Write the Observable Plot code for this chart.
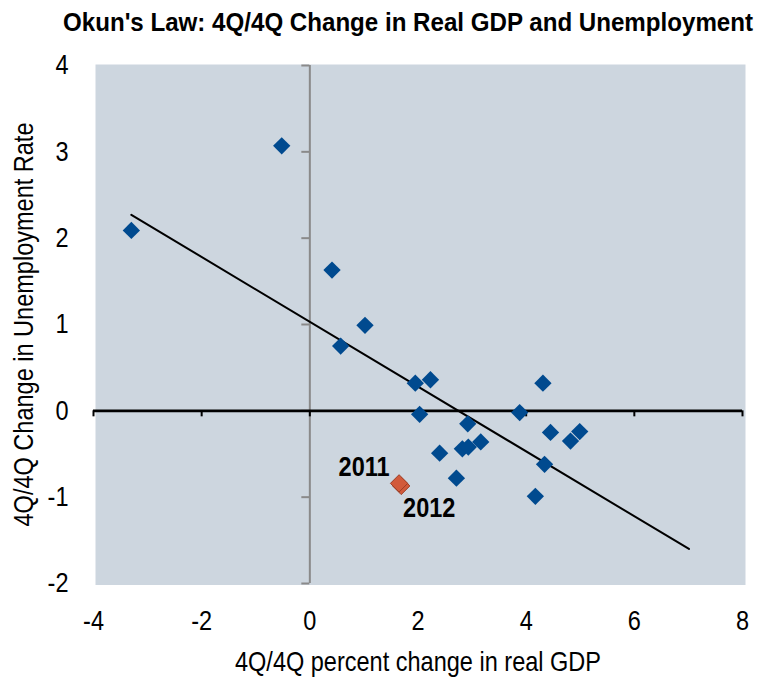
<!DOCTYPE html>
<html><head><meta charset="utf-8">
<script src="https://cdn.jsdelivr.net/npm/d3@7"></script>
<script src="https://cdn.jsdelivr.net/npm/@observablehq/plot@0.6"></script>
<style>
body{margin:0;background:#fff;}
#title{position:relative;height:44px;width:761px;}
#title span{position:absolute;left:408px;top:0;line-height:44px;white-space:nowrap;font-family:"Liberation Sans",Arial,sans-serif;font-weight:bold;font-size:26px;color:#000;transform:translateX(-50%);}
</style></head><body>
<div id="title"><span>Okun's Law: 4Q/4Q Change in Real GDP and Unemployment</span></div>
<div id="chart"></div>
<script>
// Historical observations: 4Q/4Q % change in real GDP vs 4Q/4Q change in unemployment rate
const gdp   = [-3.30, -0.52, 0.41, 1.02, 0.57, 1.95, 2.23, 2.03, 2.92, 2.40, 2.82, 2.93, 3.16, 2.71, 3.88, 4.31, 4.45, 4.34, 4.17, 4.82, 4.99];
const unemp = [ 2.09,  3.07, 1.63, 0.99, 0.75, 0.32, 0.36, -0.04, -0.15, -0.49, -0.44, -0.42, -0.36, -0.78, -0.02, 0.32, -0.25, -0.62, -0.99, -0.35, -0.24];
// Highlighted recent years
const recentYears = ["2012", "2011"];
const recentGdp   = [1.69, 1.65];
const recentUnemp = [-0.87, -0.84];
// Fitted Okun's law line (endpoints)
const fitGdp   = [-3.30, 7.01];
const fitUnemp = [2.27, -1.60];
// Axis ticks
const xTicks = [-4, -2, 0, 2, 4, 6, 8];
const yTicks = [-2, -1, 0, 1, 2, 3, 4];
const xLabel = "4Q/4Q percent change in real GDP";
const yLabel = "4Q/4Q Change in Unemployment Rate";

const points = gdp.map((g, i) => ({gdp: g, unemp: unemp[i]}));
const recent = recentYears.map((yr, i) => ({year: yr, gdp: recentGdp[i], unemp: recentUnemp[i]}));
const fit = fitGdp.map((g, i) => ({gdp: g, unemp: fitUnemp[i]}));

const font = '"Liberation Sans",Arial,sans-serif';

const chart = Plot.plot({
  width: 761,
  height: 634,
  marginTop: 21,
  marginBottom: 95,
  marginLeft: 93,
  marginRight: 19,
  style: {fontFamily: font, fontSize: "28px", color: "#000", background: "#fff"},
  x: {domain: [-4, 8]},
  y: {domain: [-2, 4]},
  marks: [
    Plot.frame({fill: "#cdd6df", stroke: null, insetLeft: 2, insetRight: -3, insetTop: -1, insetBottom: -1.5}),
    Plot.ruleX([0], {stroke: "#8a8a8a", strokeWidth: 2}),
    Plot.ruleY(yTicks, {y: d => d, x1: 0, x2: 0, insetLeft: -8, stroke: "#8a8a8a", strokeWidth: 2}),
    Plot.ruleY([0], {stroke: "#000", strokeWidth: 2.7}),
    Plot.ruleX(xTicks, {x: d => d, y1: 0, y2: 0, insetBottom: -6, stroke: "#000", strokeWidth: 2}),
    Plot.line(fit, {x: "gdp", y: "unemp", stroke: "#000", strokeWidth: 2}),
    Plot.dot(points, {x: "gdp", y: "unemp", symbol: "diamond2", r: 7.8, fill: "#004a8f", stroke: "none"}),
    Plot.dot(recent, {x: "gdp", y: "unemp", symbol: "diamond2", r: 7.8, fill: "#d25a3b", stroke: "#9c3e26", strokeWidth: 1}),
    Plot.text(recent.filter(d => d.year === "2011"), {x: "gdp", y: "unemp", text: "year", dx: -35, dy: -16, fontWeight: "bold", fontSize: 28, fill: "#000"}),
    Plot.text(recent.filter(d => d.year === "2012"), {x: "gdp", y: "unemp", text: "year", dx: 28, dy: 22, fontWeight: "bold", fontSize: 28, fill: "#000"}),
    Plot.axisX({ticks: xTicks, tickSize: 0, tickPadding: 27, tickFormat: d => String(d), label: xLabel, labelAnchor: "center", labelOffset: 87, labelArrow: "none"}),
    Plot.axisY({ticks: yTicks, tickSize: 0, tickPadding: 25, tickFormat: d => String(d), label: yLabel, labelAnchor: "center", labelOffset: 80, labelArrow: "none"})
  ]
});
document.getElementById("chart").appendChild(chart);
// condensed lettering, as in the reference (narrow face)
chart.querySelectorAll("text").forEach(t => {
  const len = t.getComputedTextLength();
  if (len > 0) {
    t.setAttribute("textLength", (len * 0.84).toFixed(2));
    t.setAttribute("lengthAdjust", "spacingAndGlyphs");
  }
});
// scale title to its reference width
const span = document.querySelector("#title span");
const w = span.getBoundingClientRect().width;
span.style.transform = `translateX(-50%) scaleX(${690 / w})`;
</script>
</body></html>
